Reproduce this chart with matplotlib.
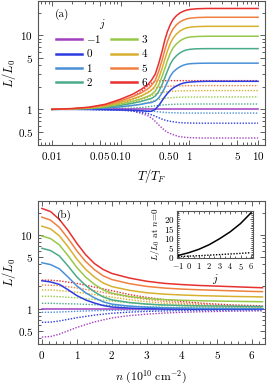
import numpy as np
import matplotlib
matplotlib.use('Agg')
import matplotlib.pyplot as plt
from matplotlib.lines import Line2D
from matplotlib.ticker import NullFormatter, MultipleLocator

# ---- datos ----
j_vals  = [-1, 0, 1, 2, 3, 4, 5, 6]
colores = ['#a23fc0', '#2c3ce0', '#4a90d9', '#4aaa8a', '#98c84a', '#d8b030', '#f08040', '#e83030']

# panel (a): L/L0 vs T/TF, curvas continuas
T_grid = [0.01, 0.02, 0.035, 0.06, 0.1, 0.15, 0.2, 0.25, 0.28, 0.32, 0.36, 0.4, 0.44,
          0.48, 0.53, 0.58, 0.65, 0.73, 0.82, 0.92, 1.05, 1.3, 1.8, 3.0, 10.0]

a_sol_m1 = [1.0] * 25
a_sol_0  = [1, 1, 0.997, 0.99, 0.98, 0.97, 0.955, 0.94,
            0.94, 1.0, 1.13, 1.3, 1.48, 1.64, 1.81, 1.94, 2.07, 2.18, 2.26, 2.31, 2.34, 2.37, 2.39, 2.39, 2.39]
a_sol_1  = [1, 1.006, 1.017, 1.04, 1.08, 1.13, 1.17, 1.22,
            1.234, 1.297, 1.432, 1.661, 1.951, 2.333, 2.809, 3.181, 3.487, 3.755, 3.946, 4.07, 4.136, 4.177, 4.2, 4.2, 4.2]
a_sol_2  = [1, 1.01, 1.026, 1.064, 1.13, 1.21, 1.28, 1.36,
            1.399, 1.512, 1.751, 2.137, 2.668, 3.29, 4.098, 4.716, 5.304, 5.786, 6.13, 6.36, 6.48, 6.57, 6.6, 6.6, 6.6]
a_sol_3  = [1, 1.013, 1.035, 1.087, 1.18, 1.28, 1.39, 1.50,
            1.581, 1.763, 2.144, 2.745, 3.555, 4.547, 5.768, 6.73, 7.65, 8.40, 8.93, 9.29, 9.49, 9.63, 9.7, 9.7, 9.7]
a_sol_4  = [1, 1.017, 1.045, 1.11, 1.24, 1.38, 1.52, 1.68,
            1.811, 2.082, 2.651, 3.527, 4.739, 6.135, 7.796, 9.126, 10.39, 11.40, 12.11, 12.61, 12.89, 13.1, 13.2, 13.2, 13.2]
a_sol_5  = [1, 1.02, 1.06, 1.14, 1.30, 1.48, 1.67, 1.89,
            2.084, 2.473, 3.30, 4.555, 6.329, 8.241, 10.42, 12.18, 13.85, 15.14, 16.02, 16.67, 17.03, 17.35, 17.5, 17.5, 17.5]
a_sol_6  = [1, 1.025, 1.07, 1.17, 1.37, 1.6, 1.86, 2.16,
            2.45, 3.0, 4.2, 6.0, 8.6, 11.2, 14.0, 16.3, 18.4, 20.0, 21.1, 21.9, 22.4, 22.8, 23, 23, 23]

# panel (a), curvas punteadas
T_dot = [0.01, 0.02, 0.035, 0.06, 0.1, 0.15, 0.2, 0.25, 0.3, 0.35,
         0.4, 0.45, 0.5, 0.6, 0.7, 0.85, 1.0, 1.5, 3.0, 10.0]

a_dot_m1 = [1, 1, 0.998, 0.99, 0.98, 0.95, 0.88, 0.82, 0.73, 0.63, 0.56, 0.51, 0.48, 0.45, 0.43, 0.42, 0.415, 0.41, 0.41, 0.41]
a_dot_0  = [1, 0.999, 0.996, 0.987, 0.973, 0.952, 0.913, 0.876, 0.828, 0.777, 0.739, 0.711, 0.694, 0.676, 0.663, 0.656, 0.653, 0.65, 0.65, 0.65]
a_dot_1  = [1, 0.999, 0.998, 0.994, 0.988, 0.980, 0.968, 0.955, 0.941, 0.927, 0.916, 0.908, 0.903, 0.898, 0.894, 0.892, 0.891, 0.89, 0.89, 0.89]
a_dot_2  = [1, 1.001, 1.004, 1.011, 1.024, 1.038, 1.059, 1.083, 1.106, 1.127, 1.142, 1.153, 1.161, 1.169, 1.174, 1.177, 1.179, 1.18, 1.18, 1.18]
a_dot_3  = [1, 1.004, 1.014, 1.033, 1.072, 1.115, 1.173, 1.243, 1.306, 1.354, 1.387, 1.411, 1.428, 1.445, 1.457, 1.464, 1.466, 1.47, 1.47, 1.47]
a_dot_4  = [1, 1.008, 1.026, 1.062, 1.137, 1.218, 1.326, 1.459, 1.575, 1.645, 1.690, 1.719, 1.738, 1.759, 1.774, 1.782, 1.786, 1.79, 1.79, 1.79]
a_dot_5  = [1, 1.013, 1.039, 1.094, 1.212, 1.337, 1.503, 1.719, 1.891, 1.974, 2.014, 2.036, 2.052, 2.067, 2.078, 2.084, 2.087, 2.09, 2.09, 2.09]
a_dot_6  = [1, 1.018, 1.055, 1.133, 1.307, 1.494, 1.738, 2.077, 2.334, 2.411, 2.44, 2.44, 2.44, 2.44, 2.44, 2.44, 2.44, 2.44, 2.44, 2.44]

# panel (b): L/L0 vs n
n_grid = [0, 0.25, 0.5, 0.75, 1.0, 1.25, 1.5, 1.75, 2.0, 2.5, 3.0, 3.5, 4.0, 4.5, 5.0, 5.5, 6.0, 6.3]

b_sol_m1 = [1.0] * 18
b_sol_0  = [2.39, 2.30, 2.13, 1.80, 1.50, 1.31, 1.19, 1.10, 1.05, 1.015, 0.997, 0.988, 0.984, 0.98, 0.98, 0.98, 0.98, 0.98]
b_sol_1  = [4.2, 3.96, 3.47, 2.68, 2.03, 1.64, 1.40, 1.235, 1.149, 1.079, 1.044, 1.025, 1.016, 1.007, 1.004, 1.003, 1.001, 1.0]
b_sol_2  = [6.61, 6.14, 5.19, 3.78, 2.69, 2.06, 1.69, 1.439, 1.313, 1.208, 1.15, 1.119, 1.102, 1.089, 1.083, 1.077, 1.071, 1.069]
b_sol_3  = [9.7, 8.94, 7.35, 5.23, 3.61, 2.68, 2.14, 1.795, 1.619, 1.46, 1.373, 1.324, 1.297, 1.278, 1.264, 1.254, 1.244, 1.239]
b_sol_4  = [13.2, 12.1, 9.75, 6.90, 4.69, 3.42, 2.68, 2.23, 1.99, 1.77, 1.64, 1.57, 1.53, 1.50, 1.48, 1.46, 1.45, 1.44]
b_sol_5  = [17.5, 15.9, 12.7, 8.96, 6.08, 4.37, 3.38, 2.79, 2.48, 2.18, 2.00, 1.90, 1.84, 1.80, 1.77, 1.74, 1.71, 1.70]
b_sol_6  = [23, 20.8, 16.3, 11.5, 7.7, 5.4, 4.1, 3.4, 3.0, 2.6, 2.35, 2.2, 2.12, 2.06, 2.02, 1.98, 1.94, 1.92]

n_dot = [0, 0.25, 0.5, 1, 1.5, 2, 2.5, 3, 3.5, 4, 4.5, 5, 5.5, 6, 6.3]

b_dot_m1 = [0.41, 0.417, 0.449, 0.555, 0.659, 0.746, 0.803, 0.840, 0.870, 0.890, 0.905, 0.915, 0.922, 0.928, 0.93]
b_dot_0  = [0.65, 0.655, 0.679, 0.751, 0.815, 0.864, 0.895, 0.915, 0.930, 0.940, 0.948, 0.953, 0.956, 0.959, 0.96]
b_dot_1  = [0.89, 0.891, 0.898, 0.919, 0.936, 0.948, 0.955, 0.960, 0.963, 0.966, 0.967, 0.968, 0.969, 0.970, 0.97]
b_dot_2  = [1.18, 1.18, 1.17, 1.155, 1.13, 1.10, 1.075, 1.056, 1.04, 1.028, 1.018, 1.011, 1.006, 1.002, 1.0]
b_dot_3  = [1.47, 1.47, 1.45, 1.40, 1.33, 1.27, 1.20, 1.15, 1.11, 1.09, 1.06, 1.04, 1.03, 1.02, 1.02]
b_dot_4  = [1.79, 1.79, 1.76, 1.67, 1.55, 1.43, 1.32, 1.24, 1.18, 1.14, 1.10, 1.08, 1.06, 1.05, 1.04]
b_dot_5  = [2.09, 2.08, 2.05, 1.91, 1.74, 1.58, 1.43, 1.33, 1.25, 1.19, 1.14, 1.11, 1.09, 1.07, 1.06]
b_dot_6  = [2.44, 2.43, 2.38, 2.20, 1.96, 1.75, 1.55, 1.42, 1.32, 1.25, 1.19, 1.15, 1.12, 1.10, 1.09]

# inset: L/L0 en n=0
ins_sol = [1, 2.39, 4.2, 6.6, 9.7, 13.2, 17.5, 23]
ins_dot = [0.41, 0.65, 0.89, 1.18, 1.47, 1.79, 2.09, 2.44]

a_sol = [a_sol_m1, a_sol_0, a_sol_1, a_sol_2, a_sol_3, a_sol_4, a_sol_5, a_sol_6]
a_dot = [a_dot_m1, a_dot_0, a_dot_1, a_dot_2, a_dot_3, a_dot_4, a_dot_5, a_dot_6]
b_sol = [b_sol_m1, b_sol_0, b_sol_1, b_sol_2, b_sol_3, b_sol_4, b_sol_5, b_sol_6]
b_dot = [b_dot_m1, b_dot_0, b_dot_1, b_dot_2, b_dot_3, b_dot_4, b_dot_5, b_dot_6]

plt.rcParams.update({
    'font.family': 'serif',
    'font.serif': ['cmr10', 'DejaVu Serif'],
    'mathtext.fontset': 'cm',
    'axes.unicode_minus': False,
    'font.size': 8,
    'axes.linewidth': 0.8,
    'axes.edgecolor': '#555555',
})

W, H = 272, 388
fig = plt.figure(figsize=(W / 100, H / 100), dpi=100)
ax_a = fig.add_axes([38 / W, 1 - 145 / H, 227 / W, 144 / H])
ax_b = fig.add_axes([38 / W, 1 - 344 / H, 227 / W, 143 / H])
ax_in = fig.add_axes([177 / W, 1 - 258 / H, 76 / W, 47 / H])

DOT = (0, (1.0, 1.1))


def marco(ax, major=3.5, minor=2.0):
    ax.tick_params(which='both', direction='in', top=True, right=True,
                   colors='#444444', labelcolor='black', width=0.6)
    ax.tick_params(which='major', length=major)
    ax.tick_params(which='minor', length=minor)


# Panel (a)
for i in range(len(j_vals)):
    ax_a.plot(T_dot, a_dot[i], color=colores[i], lw=1.0, ls=DOT)
for i in range(len(j_vals)):
    ax_a.plot(T_grid, a_sol[i], color=colores[i], lw=1.1)
ax_a.set_xscale('log')
ax_a.set_yscale('log')
ax_a.set_xlim(0.0063, 12.6)
ax_a.set_ylim(0.33, 29)
ax_a.set_xticks([0.01, 0.05, 0.1, 0.5, 1, 5, 10])
ax_a.set_xticklabels(['$0.01$', '$0.05$', '$0.10$', '$0.50$', '$1$', '$5$', '$10$'])
ax_a.set_yticks([0.5, 1, 5, 10])
ax_a.set_yticklabels(['$0.5$', '$1$', '$5$', '$10$'])
ax_a.xaxis.set_minor_formatter(NullFormatter())
ax_a.yaxis.set_minor_formatter(NullFormatter())
marco(ax_a)
ax_a.set_xlabel('$T/T_F$', fontsize=9)
ax_a.xaxis.set_label_coords(0.5, -0.15)
ax_a.set_ylabel('$L/L_0$', fontsize=9)
ax_a.yaxis.set_label_coords(-0.09, 0.5)
ax_a.text(0.075, 0.91, '(a)', transform=ax_a.transAxes, fontsize=8, va='center')

handles = [Line2D([], [], color=c, lw=1.8) for c in colores]
etiquetas = ['$%d$' % j for j in j_vals]
leg = ax_a.legend(handles, etiquetas, ncol=2, title='$j$', loc='upper left',
                  bbox_to_anchor=(0.06, 0.92), frameon=False, fontsize=8,
                  title_fontsize=8, handlelength=2.3, handletextpad=0.4,
                  columnspacing=0.9, labelspacing=0.2, borderaxespad=0)

# Panel (b)
for i in range(len(j_vals)):
    ax_b.plot(n_dot, b_dot[i], color=colores[i], lw=1.0, ls=DOT)
for i in range(len(j_vals)):
    ax_b.plot(n_grid, b_sol[i], color=colores[i], lw=1.1)
ax_b.set_yscale('log')
ax_b.set_xlim(-0.11, 6.37)
ax_b.set_ylim(0.33, 29)
ax_b.set_xticks(range(7))
ax_b.set_xticklabels(['$%d$' % k for k in range(7)])
ax_b.xaxis.set_minor_locator(MultipleLocator(0.2))
ax_b.set_yticks([0.5, 1, 5, 10])
ax_b.set_yticklabels(['$0.5$', '$1$', '$5$', '$10$'])
ax_b.yaxis.set_minor_formatter(NullFormatter())
marco(ax_b)
ax_b.set_xlabel(r'$n\ (10^{10}\ \mathrm{cm}^{-2})$', fontsize=8.5)
ax_b.xaxis.set_label_coords(0.5, -0.17)
ax_b.set_ylabel('$L/L_0$', fontsize=9)
ax_b.yaxis.set_label_coords(-0.09, 0.5)
ax_b.text(0.084, 0.90, '(b)', transform=ax_b.transAxes, fontsize=8,
          va='center', fontweight='bold')

# Inset
ax_in.plot(j_vals, ins_sol, color='black', lw=1.1)
ax_in.plot(j_vals, ins_dot, color='black', lw=1.0, ls=DOT)
ax_in.set_xlim(-1.1, 6.2)
ax_in.set_ylim(-0.3, 24)
ax_in.set_xticks(j_vals)
ax_in.set_xticklabels(['$%d$' % j for j in j_vals], fontsize=6)
ax_in.set_yticks([0, 5, 10, 15, 20])
ax_in.set_yticklabels(['$%d$' % k for k in [0, 5, 10, 15, 20]], fontsize=6.5)
ax_in.xaxis.set_minor_locator(MultipleLocator(0.5))
ax_in.yaxis.set_minor_locator(MultipleLocator(1))
marco(ax_in, 2.5, 1.2)
ax_in.tick_params(pad=2)
ax_in.set_xlabel('$j$', fontsize=8, labelpad=0)
ax_in.set_ylabel('$L/L_0$ at $n\\!=\\!0$', fontsize=6.5, labelpad=1)

fig.savefig('out.png', dpi=100)
